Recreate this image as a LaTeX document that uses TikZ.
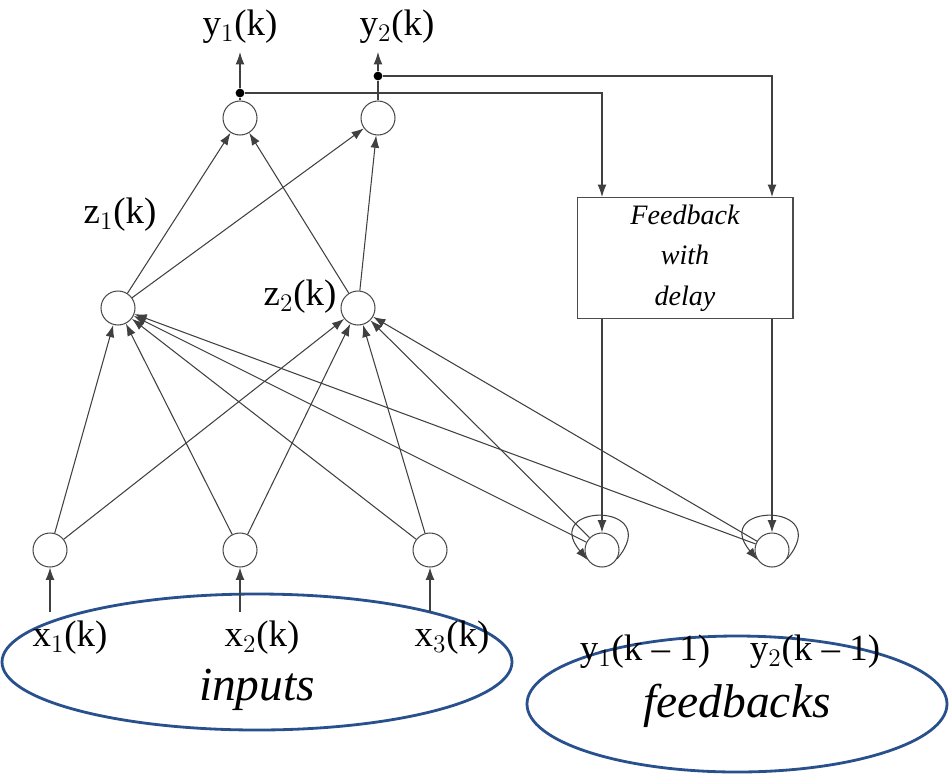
\documentclass[tikz,border=0pt]{standalone}
\usepackage{fontspec}
\setmainfont{Liberation Serif}
\usetikzlibrary{arrows,arrows.meta,positioning}
\definecolor{ovalblue}{RGB}{40,80,140}

\begin{document}
\begin{tikzpicture}[
    x=0.02cm, y=-0.02cm,
    neuron/.style={circle, draw=black!70, line width=0.6pt, minimum size=0.68cm, inner sep=0pt},
    arrow/.style={-{Latex[length=7pt,width=5pt]}, draw=black!75, line width=0.6pt},
    lbl/.style={font=\fontsize{21}{24}\selectfont, inner sep=1pt},
    big/.style={font=\fontsize{27}{30}\selectfont\itshape},
    dot/.style={circle, fill=black, inner sep=0pt, minimum size=5pt}
]
    \useasboundingbox (0,0) rectangle (950,775);

    % Ellipses
    \draw[ovalblue, line width=1.6pt] (257,662) ellipse (255 and 68);
    \draw[ovalblue, line width=1.6pt] (737,704) ellipse (210 and 68);

    % Neurons
    \node[neuron] (out1) at (240,118) {};
    \node[neuron] (out2) at (378,118) {};
    \node[neuron] (h1) at (118,308) {};
    \node[neuron] (h2) at (358,308) {};
    \node[neuron] (in1) at (50,550) {};
    \node[neuron] (in2) at (240,550) {};
    \node[neuron] (in3) at (430,550) {};
    \node[neuron] (fb1) at (602,550) {};
    \node[neuron] (fb2) at (772,550) {};

    % Feedback box
    \node[draw=black!70, line width=0.6pt, minimum width=4.32cm, minimum height=2.42cm, align=center,
          font=\fontsize{16}{23}\selectfont\itshape] (box) at (685,258) {Feedback\\with\\delay};

    % Labels
    \node[lbl] (ly1) at (240,27) {y$_1$(k)};
    \node[lbl] (ly2) at (397,27) {y$_2$(k)};
    \node[lbl] at (120,215) {z$_1$(k)};
    \node[lbl] at (300,297) {z$_2$(k)};
    \node[lbl] (lx1) at (70,638) {x$_1$(k)};
    \node[lbl] (lx2) at (262,638) {x$_2$(k)};
    \node[lbl] (lx3) at (452,638) {x$_3$(k)};
    \node[lbl] at (645,652) {y$_1$(k -- 1)};
    \node[lbl] at (815,652) {y$_2$(k -- 1)};
    \node[big] at (257,690) {inputs};
    \node[big] at (737,706) {feedbacks};

    % Junctions
    \node[dot] (j1) at (240,93) {};
    \node[dot] (j2) at (378,76) {};
    \coordinate (t1) at (240,52);
    \coordinate (t2) at (378,52);
    \draw[draw=black!75, line width=0.6pt] (out1) -- (j1);
    \draw[draw=black!75, line width=0.6pt] (out2) -- (j2);
    \draw[arrow] (j1) -- (t1);
    \draw[arrow] (j2) -- (t2);
    \draw[arrow] (j1) -| (box.north -| fb1);
    \draw[arrow] (j2) -| (box.north -| fb2);
    \draw[arrow] (box.south -| fb1) -- (fb1);
    \draw[arrow] (box.south -| fb2) -- (fb2);

    % Inputs
    \foreach \i in {1,2,3} {
        \draw[arrow] (in\i |- 0,612) -- (in\i);
    }

    % Hidden layer connections
    \foreach \s in {in1,in2,in3,fb1,fb2} {
        \draw[arrow] (\s) -- (h1);
        \draw[arrow] (\s) -- (h2);
    }
    \foreach \h in {h1,h2} {
        \draw[arrow] (\h) -- (out1);
        \draw[arrow] (\h) -- (out2);
    }

    % Self loops
    \foreach \f in {fb1,fb2} {
        \draw[arrow] (\f.-30) .. controls +(-50:75) and +(230:75) .. (\f.215);
    }
\end{tikzpicture}
\end{document}
